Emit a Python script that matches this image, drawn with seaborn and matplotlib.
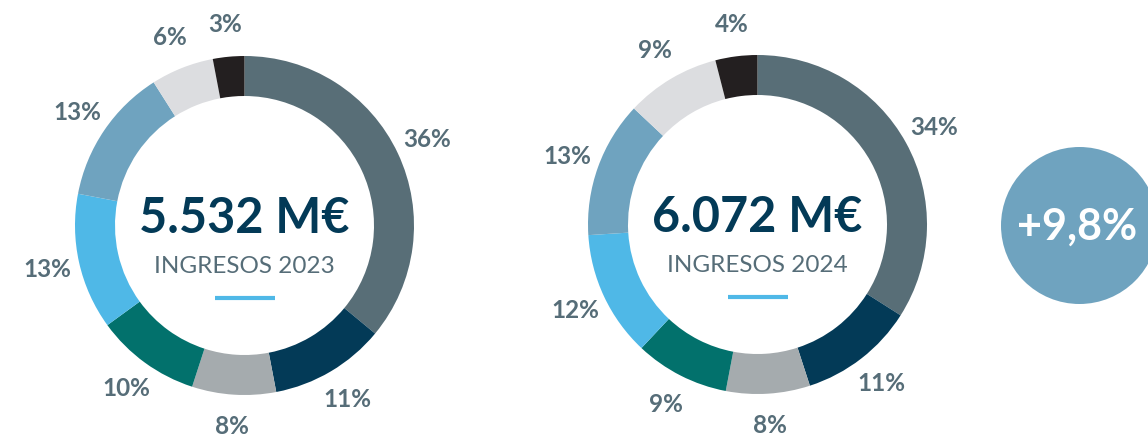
import seaborn as sns
import numpy as np
import matplotlib.pyplot as plt

sns.set_theme(style='white')
plt.rcParams['font.family'] = ['Lato', 'DejaVu Sans']

# shares of revenue, clockwise from 12 o'clock
shares_2023 = [36, 11, 8, 10, 13, 13, 6, 3]
shares_2024 = [34, 11, 8, 9, 12, 13, 9, 4]
totals = ['5.532 M€', '6.072 M€']
titles = ['INGRESOS 2023', 'INGRESOS 2024']
growth = '+9,8%'

colors = sns.color_palette(['#586e77', '#033a57', '#a5abae', '#02716c',
                            '#4fb8e7', '#6fa3bf', '#dcdde0', '#231f20'])
label_col = '#566d78'
navy = '#033a57'
accent = '#4fb8e7'

W, H = 1148, 438
fig = plt.figure(figsize=(W / 100, H / 100), dpi=100)
ax = fig.add_axes([0, 0, 1, 1])

donuts = [(shares_2023, (244.5, H - 225.5)), (shares_2024, (757.5, H - 224.5))]
R = 169.5

for i, (vals, c) in enumerate(donuts):
  wedges, texts = ax.pie(vals, colors=colors, startangle=90, counterclock=False,
                         center=c, radius=R,
                         labels=[f'{v}%' for v in vals], labeldistance=1.19,
                         wedgeprops=dict(width=40, linewidth=0),
                         textprops=dict(color=label_col, fontsize=17.5, fontweight='bold'))
  for t in texts:
    t.set_ha('center'); t.set_va('center')
  ax.text(c[0], c[1] + 7, totals[i], ha='center', va='center',
          fontsize=35, fontweight='bold', color=navy)
  ax.text(c[0], c[1] - 41, titles[i], ha='center', va='center',
          fontsize=17.5, color=label_col)
  ax.plot([c[0] - 30, c[0] + 30], [c[1] - 72, c[1] - 72], color=accent,
          lw=3, solid_capstyle='butt')

circ = plt.Circle((1079.5, H - 225.5), 78.5, color='#6fa3bf', lw=0)
ax.add_patch(circ)
ax.text(1077, H - 227, growth, ha='center', va='center',
        fontsize=31, fontweight='bold', color='white')

ax.set_xlim(0, W)
ax.set_ylim(0, H)
ax.set_aspect('equal')
ax.set_axis_off()

fig.savefig('out.png', dpi=100)
